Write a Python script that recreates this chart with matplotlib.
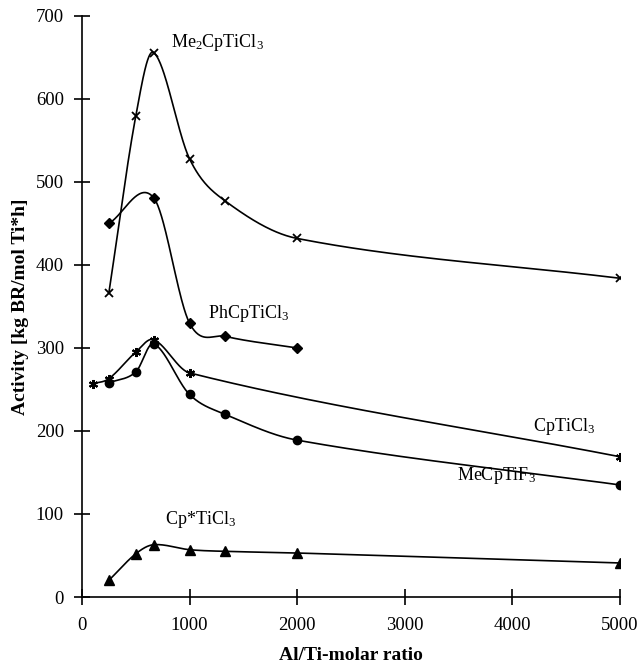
import numpy as np
import matplotlib
matplotlib.use("Agg")
from matplotlib import pyplot as plt

plt.rcParams['font.family'] = ['Liberation Serif', 'DejaVu Serif']
plt.rcParams['mathtext.fontset'] = 'custom'
plt.rcParams['mathtext.rm'] = 'Liberation Serif'

# Al/Ti ratios and activities
x_me2 = [250, 500, 667, 1000, 1333, 2000, 5000]
y_me2 = [366, 579, 656, 528, 477, 432, 384]

x_ph = [250, 667, 1000, 1333, 2000]
y_ph = [450, 481, 330, 314, 300]

x_cp = [100, 250, 500, 667, 1000, 5000]
y_cp = [257, 263, 295, 310, 270, 169]

x_mecp = [250, 500, 667, 1000, 1333, 2000, 5000]
y_mecp = [258, 271, 305, 244, 220, 189, 135]

x_cpstar = [250, 500, 667, 1000, 1333, 2000, 5000]
y_cpstar = [20, 52, 63, 57, 55, 53, 41]

XMAX = 5000
YMAX = 700


def smooth(xs, ys, n=60):
    # smoothed line through the points: cubic Hermite in x,
    # tangents from the neighbouring points (Catmull-Rom style)
    x = np.array(xs, float)
    y = np.array(ys, float)
    m = np.empty_like(y)
    m[1:-1] = (y[2:] - y[:-2]) / (x[2:] - x[:-2])
    m[0] = (y[1] - y[0]) / (x[1] - x[0])
    m[-1] = (y[-1] - y[-2]) / (x[-1] - x[-2])
    sx, sy = [x[0]], [y[0]]
    t = np.linspace(0, 1, n)[1:]
    for i in range(len(x) - 1):
        h = x[i + 1] - x[i]
        h00 = 2 * t**3 - 3 * t**2 + 1
        h10 = t**3 - 2 * t**2 + t
        h01 = -2 * t**3 + 3 * t**2
        h11 = t**3 - t**2
        sx.extend(x[i] + t * h)
        sy.extend(h00 * y[i] + h10 * h * m[i] + h01 * y[i + 1] + h11 * h * m[i + 1])
    return np.array(sx), np.array(sy)


fig = plt.figure(figsize=(6.4, 6.66), dpi=100)
ax = fig.add_axes([0.128, 0.1036, 0.8406, 0.8724])

series = [
    (x_me2, y_me2, dict(marker='x', markersize=5.5, mew=1.3)),
    (x_ph, y_ph, dict(marker='D', markersize=5)),
    (x_cp, y_cp, dict(marker=(6, 2, 0), markersize=6.5, mew=1.5)),
    (x_mecp, y_mecp, dict(marker='o', markersize=6)),
    (x_cpstar, y_cpstar, dict(marker='^', markersize=6.5)),
]
for xs, ys, mk in series:
    sx, sy = smooth(xs, ys)
    ax.plot(sx, sy, color='black', lw=1.2)
    ax.plot(xs, ys, linestyle='none', color='black', **mk)

lab = dict(fontsize=13, color='black')
ax.text(827, 668, r'Me$\mathregular{_2}$CpTiCl$\mathregular{_3}$', va='center', **lab)
ax.text(1171, 342, r'PhCpTiCl$\mathregular{_3}$', va='center', **lab)
ax.text(4480, 205, r'CpTiCl$\mathregular{_3}$', ha='center', va='center', **lab)
ax.text(3857, 146, r'MeCpTiF$\mathregular{_3}$', ha='center', va='center', **lab)
ax.text(1106, 93, r'Cp*TiCl$\mathregular{_3}$', ha='center', va='center', **lab)

ax.set_xlim(0, XMAX)
ax.set_ylim(0, YMAX)
ax.set_xticks(range(0, 5001, 1000))
ax.set_yticks(range(0, 701, 100))
ax.spines['top'].set_visible(False)
ax.spines['right'].set_visible(False)
ax.spines['left'].set_linewidth(1.2)
ax.spines['bottom'].set_linewidth(1.2)
ax.tick_params(direction='inout', length=11, width=1.2, labelsize=13.5)
ax.tick_params(axis='x', pad=9)
ax.tick_params(axis='y', pad=7.5)
ax.set_xlabel('Al/Ti-molar ratio', fontsize=14, fontweight='bold', labelpad=9)
ax.set_ylabel('Activity [kg BR/mol Ti*h]', fontsize=14, fontweight='bold', labelpad=5)

fig.savefig('out.png', dpi=100)
